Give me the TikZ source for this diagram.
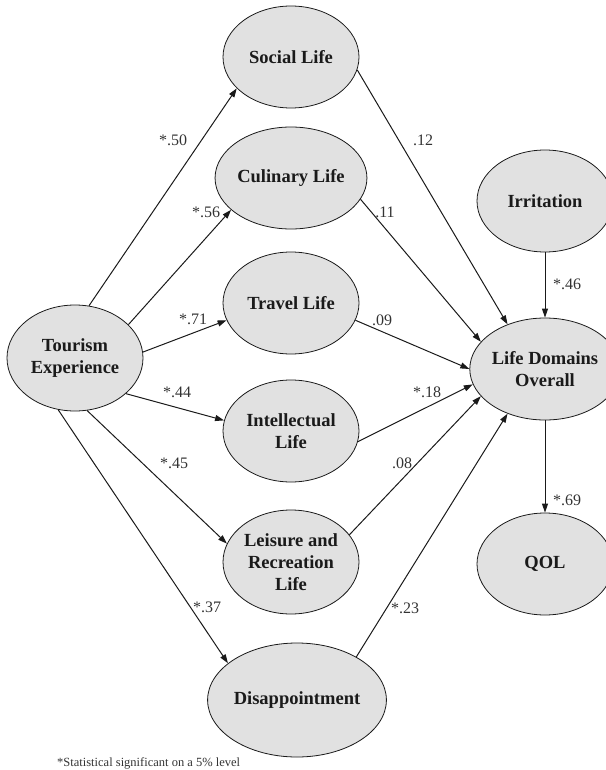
\documentclass[tikz,border=0pt]{standalone}
\usepackage{fontspec}
\setmainfont{Liberation Serif}
\usetikzlibrary{arrows.meta,shapes.geometric}
\definecolor{Ink}{HTML}{1A1A1A}
\definecolor{Muted}{HTML}{333333}
\definecolor{Shade}{HTML}{E1E1E1}
\tikzset{
  latent/.style={ellipse,draw=Ink,line width=0.8pt,fill=Shade,minimum width=136pt,minimum height=102pt,inner sep=0pt,align=center,text=Ink,font=\fontsize{18.5}{22}\selectfont\bfseries},
  effect/.style={-{Triangle[length=9pt,width=6pt]},line width=1pt,draw=Ink},
  coef/.style={inner sep=0pt,text=Muted,font=\fontsize{16}{19}\selectfont}
}

\begin{document}
\begin{tikzpicture}[x=1pt,y=-1pt]
  \useasboundingbox (0,0) rectangle (605,770);
  % constructs
  \node[latent,minimum height=106pt] (tour) at (75,358) {Tourism\\Experience};
  \node[latent] (soc) at (291,57) {Social Life};
  \node[latent] (cul) at (291,178) {Culinary Life};
  \node[latent] (trv) at (291,303) {Travel Life};
  \node[latent] (int) at (291,431) {Intellectual\\Life};
  \node[latent,minimum height=104pt] (lei) at (291,562) {Leisure and\\Recreation\\Life};
  \node[latent,minimum width=148pt,minimum height=114pt] (dis) at (297,700) {Disappointment};
  \node[latent] (irr) at (545,201) {Irritation};
  \node[latent] (ldo) at (545,369) {Life Domains\\Overall};
  \node[latent] (qol) at (545,564) {QOL};
  % paths
  \draw[effect] (tour.75) -- (soc.210);
  \draw[effect] (tour.32) -- (cul.208);
  \draw[effect] (tour.5) -- (trv.195);
  \draw[effect] (tour.325) -- (int.171);
  \draw[effect] (tour.283) -- (lei.164);
  \draw[effect] (tour.252) -- (dis.152);
  \draw[effect] (soc.349) -- (ldo.130);
  \draw[effect] (cul.343) -- (ldo.157);
  \draw[effect] (trv.345) -- (ldo.180);
  \draw[effect] (int.351) -- (ldo.192);
  \draw[effect] (lei.25) -- (ldo.203);
  \draw[effect] (dis.36) -- (ldo.230);
  \draw[effect] (irr.south) -- (ldo.north);
  \draw[effect] (ldo.south) -- (qol.north);
  % coefficients
  \node[coef] (c50) at (173,140) {*.50};
  \node[coef] (c56) at (206,212) {*.56};
  \node[coef] (c71) at (193,319) {*.71};
  \node[coef] (c44) at (177,392) {*.44};
  \node[coef] (c45) at (174,463) {*.45};
  \node[coef] (c37) at (207,607) {*.37};
  \node[coef] (c12) at (423,140) {.12};
  \node[coef] (c11) at (385,212) {.11};
  \node[coef] (c09) at (382,320) {.09};
  \node[coef] (c18) at (427,392) {*.18};
  \node[coef] (c08) at (402,463) {.08};
  \node[coef] (c23) at (405,608) {*.23};
  \node[coef] (c46) at (567,284) {*.46};
  \node[coef] (c69) at (567,500) {*.69};
  \node[coef,anchor=west,font=\fontsize{12.5}{15}\selectfont] (note) at (57,763) {*Statistical significant on a 5\% level};
\end{tikzpicture}
\end{document}
